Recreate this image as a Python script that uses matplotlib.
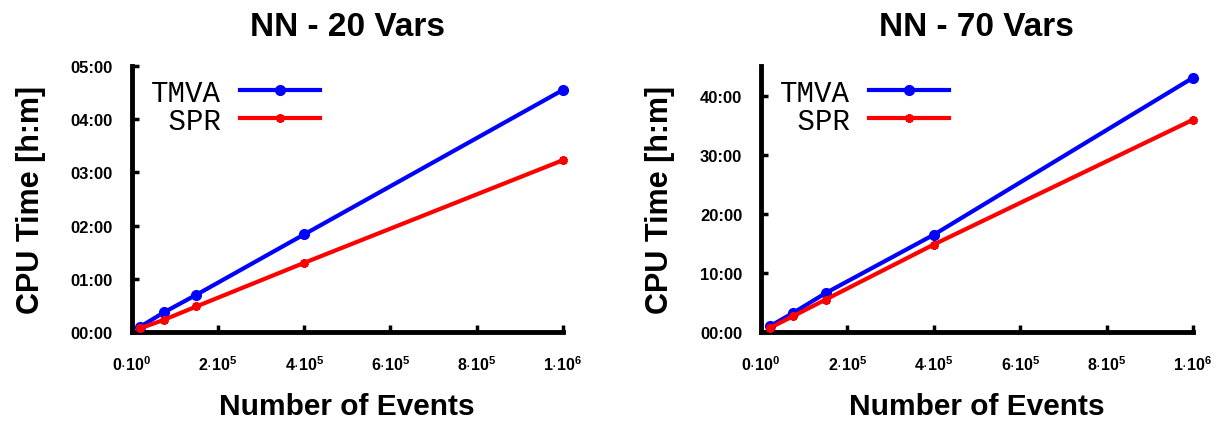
#! /usr/bin/env python
import matplotlib
matplotlib.use('Agg')
from matplotlib import pyplot as plt
from matplotlib.ticker import FuncFormatter

# number of training events
events = [2e4, 7.5e4, 1.5e5, 4e5, 1e6]

# CPU time in hours
tmva_20 = [0.10, 0.37, 0.70, 1.835, 4.55]
spr_20 = [0.07, 0.23, 0.48, 1.30, 3.23]
tmva_70 = [0.95, 3.26, 6.6, 16.45, 43.0]
spr_70 = [0.68, 2.7, 5.5, 14.8, 35.9]

titles = ['NN - 20 Vars', 'NN - 70 Vars']
yticks_20 = [0, 1, 2, 3, 4, 5]
yticks_70 = [0, 10, 20, 30, 40]
xticks = [0, 2e5, 4e5, 6e5, 8e5, 1e6]
xtick_labels = [r'$\mathbf{0{\cdot}10^{0}}$', r'$\mathbf{2{\cdot}10^{5}}$',
                r'$\mathbf{4{\cdot}10^{5}}$', r'$\mathbf{6{\cdot}10^{5}}$',
                r'$\mathbf{8{\cdot}10^{5}}$', r'$\mathbf{1{\cdot}10^{6}}$']

plt.rcParams['font.family'] = ['Liberation Sans', 'DejaVu Sans']
plt.rcParams['mathtext.fontset'] = 'custom'
plt.rcParams['mathtext.bf'] = 'Liberation Sans:bold'
plt.rcParams['mathtext.rm'] = 'Liberation Sans:bold'


def hm(h, pos=None):
    hours = int(h)
    mins = int(round((h - hours) * 60))
    return '%02d:%02d' % (hours, mins)


def panel(ax, tmva, spr, title, yticks, ymax):
    ax.plot(events, tmva, '-', color='#0000ff', lw=3, marker='o', ms=7,
            label='TMVA', clip_on=False, zorder=3)
    ax.plot(events, spr, '-', color='#ff0000', lw=3, marker=(6, 2, 0), ms=6,
            mew=2.5, label=' SPR', clip_on=False, zorder=3)
    ax.set_xlim(0, 1e6)
    ax.set_ylim(0, ymax)
    ax.set_xticks(xticks)
    ax.set_xticklabels(xtick_labels)
    ax.set_yticks(yticks)
    ax.yaxis.set_major_formatter(FuncFormatter(hm))
    for s in ['top', 'right']:
        ax.spines[s].set_visible(False)
    for s in ['left', 'bottom']:
        ax.spines[s].set_linewidth(3.5)
    ax.tick_params(direction='in', length=5, width=2.5, labelsize=12)
    ax.tick_params(axis='x', labelsize=11.5, pad=16)
    ax.tick_params(axis='y', pad=13.5)
    for lab in ax.get_yticklabels():
        lab.set_fontweight('bold')
    ax.set_title(title, fontsize=24, fontweight='bold', pad=22)
    ax.set_xlabel('Number of Events', fontsize=21.5, fontweight='bold', labelpad=14)
    ax.set_ylabel('CPU Time [h:m]', fontsize=22, fontweight='bold', labelpad=18)
    ax.legend(loc='center left', bbox_to_anchor=(0.044, 0.847), frameon=False,
              markerfirst=False, handlelength=2.75, handletextpad=0.65,
              labelspacing=0.0, borderpad=0, borderaxespad=0,
              prop={'family': 'Liberation Mono', 'size': 21})


fig = plt.figure(figsize=(12.27, 4.27), dpi=100)
ax1 = fig.add_axes([0.1073, 0.2201, 0.3515, 0.623])
ax2 = fig.add_axes([0.6202, 0.2201, 0.352, 0.623])
panel(ax1, tmva_20, spr_20, titles[0], yticks_20, 5)
panel(ax2, tmva_70, spr_70, titles[1], yticks_70, 45)

fig.savefig('out.png', dpi=100)
